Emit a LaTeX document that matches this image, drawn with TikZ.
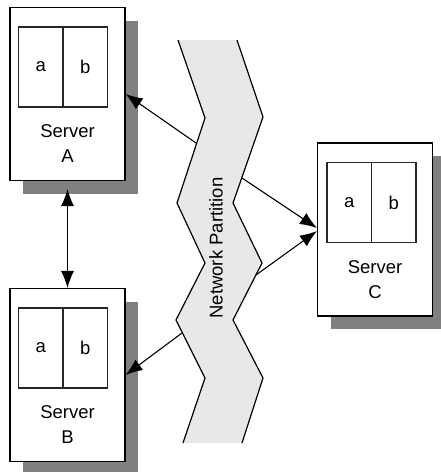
\documentclass[tikz,border=0pt]{standalone}
\usepackage{fontspec}
\setmainfont{Liberation Sans}
\usetikzlibrary{positioning}
\usetikzlibrary{arrows.meta, shadows}

\begin{document}
\begin{tikzpicture}[x=1pt,y=-1pt,
  server/.style={rectangle,draw=black,line width=1.1pt,fill=white,minimum width=115pt,minimum height=173pt,inner sep=0pt,
    drop shadow={shadow xshift=13pt,shadow yshift=-13pt,fill=black!50,opacity=1}},
  half/.style={rectangle,draw=black!85,line width=1.4pt,minimum width=44.5pt,minimum height=80pt,inner sep=0pt,outer sep=0pt,font=\fontsize{18.5}{20}\selectfont},
  srvlabel/.style={align=center,font=\fontsize{18.5}{25}\selectfont},
  link/.style={draw=black,line width=1.1pt,-{Latex[length=17pt,width=13pt]}},
  dlink/.style={draw=black,line width=1.1pt,{Latex[length=17pt,width=13pt]}-{Latex[length=17pt,width=13pt]}}]
\useasboundingbox (0,0) rectangle (441,472);

% partition band
\fill[black!9] (178,40) -- (205,118) -- (177,203) -- (205,263) -- (176,320) -- (205,378) -- (183,443)
  -- (242,443) -- (263,378) -- (233,320) -- (262,263) -- (233,203) -- (263,117) -- (237,40) -- cycle;
\draw[line width=1.2pt] (178,40) -- (205,118) -- (177,203) -- (205,263) -- (176,320) -- (205,378) -- (183,443);
\draw[line width=1.2pt] (237,40) -- (263,117) -- (233,203) -- (262,263) -- (233,320) -- (263,378) -- (242,443);
\node[rotate=90,font=\fontsize{18.5}{20}\selectfont] (NP) at (216,248) {Network Partition};

% servers
\node[server] (A) at (67.5,94) {};
\node[half,below right=20pt and 9pt of A.north west] (Aa) {a};
\node[half,right=0pt of Aa] (Ab) {b};
\node[srvlabel] (Alab) at ([yshift=-137pt]A.north) {Server\\A};

\node[server] (B) at (67.5,375) {};
\node[half,below right=20pt and 9pt of B.north west] (Ba) {a};
\node[half,right=0pt of Ba] (Bb) {b};
\node[srvlabel] (Blab) at ([yshift=-137pt]B.north) {Server\\B};

\node[server] (C) at (375,229.5) {};
\node[half,below right=20pt and 10pt of C.north west] (Ca) {a};
\node[half,right=0pt of Ca] (Cb) {b};
\node[srvlabel] (Clab) at ([yshift=-137pt]C.north) {Server\\C};

% links across the partition
\coordinate (pA) at (196,143);
\coordinate (pB) at (182,333);
\coordinate (pC1) at (242,178);
\coordinate (pC2) at (256,275);
\draw[link] (pA) -- (A.east);
\draw[link] (pB) -- (B.east);
\draw[link] (pC1) -- ([yshift=1.5pt]C.west);
\draw[link] (pC2) -- ([yshift=-1.5pt]C.west);
\draw[dlink] ([yshift=-8pt]A.south) -- (B.north);

\end{tikzpicture}
\end{document}
